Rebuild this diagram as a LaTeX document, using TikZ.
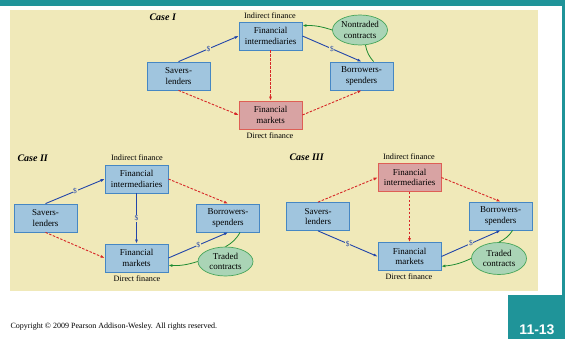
\documentclass[tikz,border=0pt]{standalone}
\usepackage{fontspec}
\setmainfont{Liberation Serif}
\newfontfamily\slidenum{Liberation Sans}
\usepackage{xcolor}
\usetikzlibrary{arrows.meta, shapes.geometric, positioning}
\definecolor{slideteal}{RGB}{31,148,153}
\definecolor{panel}{RGB}{240,233,185}
\definecolor{boxblue}{RGB}{160,197,222}
\definecolor{edgeblue}{RGB}{70,135,195}
\definecolor{boxred}{RGB}{216,163,163}
\definecolor{edgered}{RGB}{222,95,85}
\definecolor{oval}{RGB}{170,212,182}
\definecolor{edgegreen}{RGB}{70,165,90}
\definecolor{claimgreen}{RGB}{30,140,50}
\definecolor{flowblue}{RGB}{35,70,170}
\definecolor{flowred}{RGB}{215,40,40}
\tikzstyle{inst} = [draw=edgeblue, fill=boxblue, line width=0.8pt, minimum width=63pt, minimum height=28pt, inner sep=0pt, align=center, font=\fontsize{9}{10.5}\selectfont]
\tikzstyle{mkt} = [inst, draw=edgered, fill=boxred]
\tikzstyle{contract} = [ellipse, draw=edgegreen, fill=oval, line width=0.7pt, inner sep=0pt, minimum width=55pt, minimum height=30pt, align=center, font=\fontsize{9}{10.5}\selectfont]
\tikzstyle{finlabel} = [font=\fontsize{8.2}{9}\selectfont]
\tikzstyle{casename} = [anchor=west, font=\fontsize{10}{11}\selectfont\bfseries\itshape]
\tikzstyle{fund} = [flowblue, line width=0.9pt, -{Latex[length=4pt,width=3pt]}]
\tikzstyle{direct} = [flowred, line width=0.9pt, dash pattern=on 2.5pt off 1.5pt, -{Latex[length=4pt,width=3pt]}]
\tikzstyle{claim} = [claimgreen, line width=0.8pt]
\tikzstyle{dollar} = [fill=panel, inner sep=0.6pt, text=flowblue, font=\fontsize{7.5}{8}\selectfont]

\begin{document}
\begin{tikzpicture}[x=1pt, y=-1pt]
\useasboundingbox (0,0) rectangle (565,339);
% frame of the slide
\fill[slideteal] (0,0) rectangle (565,6);
\fill[slideteal] (562,0) rectangle (565,295);
\fill[slideteal] (508,295) rectangle (565,339);
\fill[panel] (10,10) rectangle (538,291);
\node[text=white, font=\slidenum\fontsize{14}{16}\selectfont\bfseries] (page) at (537,330) {11-13};
\node[anchor=base west, font=\fontsize{8}{9}\selectfont] (copy) at (7,328) {Copyright \textcopyright{} 2009 Pearson Addison-Wesley. All rights reserved.};

% Case I
\node[casename] (case1) at (146,17) {Case I};
\node[finlabel] (ind1) at (270,16) {Indirect finance};
\node[inst] (fi1) at (270.5,36) {Financial\\intermediaries};
\node[inst] (sl1) at (178.5,76) {Savers-\\lenders};
\node[inst] (bs1) at (361.5,76) {Borrowers-\\spenders};
\node[mkt] (fm1) at (270.5,115) {Financial\\markets};
\node[finlabel] (dir1) at (270,136) {Direct finance};
\node[contract] (ct1) at (360,30) {Nontraded\\contracts};
\draw[fund] (sl1.north) -- node[dollar] {\$} (fi1.west);
\draw[fund] (fi1.east) -- node[dollar] {\$} (bs1.north);
\draw[direct] (fi1.south) -- (fm1.north);
\draw[direct] (sl1.south) -- (fm1.west);
\draw[direct] (fm1.east) -- (bs1.south);
\draw[claim] (bs1.50) to[bend left=15] (ct1.-70);
\draw[claim, -{Latex[length=4pt,width=3pt]}] (ct1.west) to[bend right=10] (fi1.18);

% Case II
\node[casename] (case2) at (14,158) {Case II};
\node[finlabel] (ind2) at (137,158) {Indirect finance};
\node[inst] (fi2) at (136.5,179) {Financial\\intermediaries};
\node[inst] (sl2) at (45.5,218) {Savers-\\lenders};
\node[inst] (bs2) at (228,218) {Borrowers-\\spenders};
\node[inst] (fm2) at (136.5,258) {Financial\\markets};
\node[finlabel] (dir2) at (137,279) {Direct finance};
\node[contract, minimum height=29pt] (ct2) at (225.5,261.5) {Traded\\contracts};
\draw[fund] (sl2.north) -- node[dollar] {\$} (fi2.west);
\draw[direct] (fi2.east) -- (bs2.north);
\draw[fund] (fi2.south) -- node[dollar] {\$} (fm2.north);
\draw[direct] (sl2.south) -- (fm2.west);
\draw[fund] (fm2.east) -- node[dollar] {\$} (bs2.south);
\draw[claim] (bs2.-50) to[bend left=15] (ct2.north);
\draw[claim, -{Latex[length=4pt,width=3pt]}] (ct2.west) to[bend left=10] (fm2.-13);

% Case III
\node[casename] (case3) at (286,157) {Case III};
\node[finlabel] (ind3) at (409,157) {Indirect finance};
\node[mkt] (fi3) at (409.5,177.5) {Financial\\intermediaries};
\node[inst] (sl3) at (318,216.5) {Savers-\\lenders};
\node[inst] (bs3) at (500.5,216) {Borrowers-\\spenders};
\node[inst] (fm3) at (409.5,256.5) {Financial\\markets};
\node[finlabel] (dir3) at (409,277) {Direct finance};
\node[contract, minimum height=32pt] (ct3) at (499,258.5) {Traded\\contracts};
\draw[direct] (sl3.north) -- (fi3.west);
\draw[direct] (fi3.east) -- (bs3.north);
\draw[direct] (fi3.south) -- (fm3.north);
\draw[fund] (sl3.south) -- node[dollar] {\$} (fm3.west);
\draw[fund] (fm3.east) -- node[dollar] {\$} (bs3.south);
\draw[claim] (bs3.-50) to[bend left=15] (ct3.north);
\draw[claim, -{Latex[length=4pt,width=3pt]}] (ct3.west) to[bend left=10] (fm3.-17);
\end{tikzpicture}
\end{document}
